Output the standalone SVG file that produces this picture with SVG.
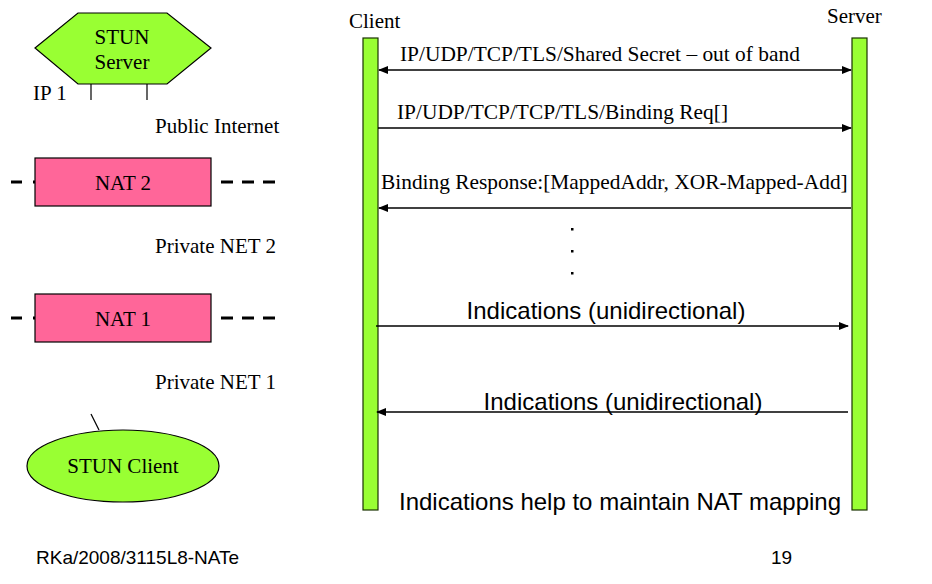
<svg xmlns="http://www.w3.org/2000/svg" width="932" height="584" viewBox="0 0 932 584">
<defs>
<style>
.serif{font-family:"Liberation Serif","Times New Roman",serif;font-size:21px;fill:#000}
.msgtxt{font-family:"Liberation Serif","Times New Roman",serif;font-size:21.4px;fill:#000}
.sans{font-family:"Liberation Sans",Arial,sans-serif;font-size:24px;fill:#000}
.foot{font-family:"Liberation Sans",Arial,sans-serif;font-size:19px;fill:#000}
.green{fill:#99ff33;stroke:#000;stroke-width:1.2}
.pink{fill:#ff6699;stroke:#000;stroke-width:1.2}
.bar{fill:#99ff33;stroke:#1a3300;stroke-width:1.2}
.msg{stroke:#000;stroke-width:1.3;fill:none}
.dash{stroke:#000;stroke-width:3;fill:none}
.thin{stroke:#000;stroke-width:1.2;fill:none}
</style>
<marker id="ah" markerWidth="10" markerHeight="8" refX="9" refY="4" orient="auto-start-reverse" markerUnits="userSpaceOnUse">
<path d="M0,0 L10,4 L0,8 Z" fill="#000"/>
</marker>
</defs>
<rect width="932" height="584" fill="#fff"/>

<g id="stun-server">
<polygon class="green" points="35,48 78,13 167,13 211,48 167,84 78,84"/>
<text class="serif" x="122" y="44" text-anchor="middle">STUN</text>
<text class="serif" x="122" y="69" text-anchor="middle">Server</text>
<line class="thin" x1="91" y1="84" x2="91" y2="100"/>
<line class="thin" x1="147" y1="84" x2="147" y2="100"/>
<text class="serif" x="33" y="100">IP  1</text>
</g>

<text class="serif" x="155" y="133">Public Internet</text>

<g id="nat2">
<line class="dash" x1="11" y1="182" x2="35" y2="182" stroke-dasharray="11 11"/>
<line class="dash" x1="221" y1="182" x2="275" y2="182" stroke-dasharray="12 9"/>
<rect class="pink" x="35" y="158" width="176" height="48"/>
<text class="serif" x="123" y="190" text-anchor="middle">NAT 2</text>
</g>

<text class="serif" x="155" y="253">Private NET 2</text>

<g id="nat1">
<line class="dash" x1="11" y1="318" x2="35" y2="318" stroke-dasharray="11 11"/>
<line class="dash" x1="221" y1="318" x2="275" y2="318" stroke-dasharray="12 9"/>
<rect class="pink" x="35" y="294" width="176" height="48"/>
<text class="serif" x="123" y="326" text-anchor="middle">NAT 1</text>
</g>

<text class="serif" x="155" y="389">Private NET 1</text>

<g id="stun-client">
<line class="thin" x1="91" y1="414" x2="99" y2="430"/>
<ellipse class="green" cx="123" cy="466" rx="96" ry="36"/>
<text class="serif" x="123" y="473" text-anchor="middle">STUN Client</text>
</g>

<g id="client">
<text class="serif" x="349" y="28">Client</text>
<rect class="bar" x="363" y="38" width="15" height="472"/>
</g>

<g id="server">
<text class="serif" x="827" y="23">Server</text>
<rect class="bar" x="852" y="38" width="15" height="472"/>
</g>

<g id="connectors">
<line class="msg" x1="379" y1="70" x2="851" y2="70" marker-start="url(#ah)" marker-end="url(#ah)"/>
<line class="msg" x1="378" y1="128" x2="851" y2="128" marker-end="url(#ah)"/>
<line class="msg" x1="851" y1="208" x2="379" y2="208" marker-end="url(#ah)"/>
<line class="msg" x1="376" y1="326" x2="848" y2="326" marker-end="url(#ah)"/>
<line class="msg" x1="848" y1="412" x2="377" y2="412" marker-end="url(#ah)"/>
</g>

<g id="labels">
<text class="msgtxt" x="400" y="61">IP/UDP/TCP/TLS/Shared Secret – out of band</text>
<text class="msgtxt" x="397" y="119">IP/UDP/TCP/TCP/TLS/Binding Req[]</text>
<text class="msgtxt" x="381" y="189">Binding Response:[MappedAddr, XOR-Mapped-Add]</text>
<rect x="571" y="228" width="2.5" height="2.5" fill="#000"/>
<rect x="571" y="250" width="2.5" height="2.5" fill="#000"/>
<rect x="571" y="272" width="2.5" height="2.5" fill="#000"/>
<text class="sans" x="606" y="319" text-anchor="middle">Indications (unidirectional)</text>
<text class="sans" x="623" y="410" text-anchor="middle">Indications (unidirectional)</text>
<text class="sans" x="399" y="510">Indications help to maintain NAT mapping</text>
</g>

<text class="foot" x="36" y="564">RKa/2008/3115L8-NATe</text>
<text class="foot" x="771" y="564">19</text>
</svg>
